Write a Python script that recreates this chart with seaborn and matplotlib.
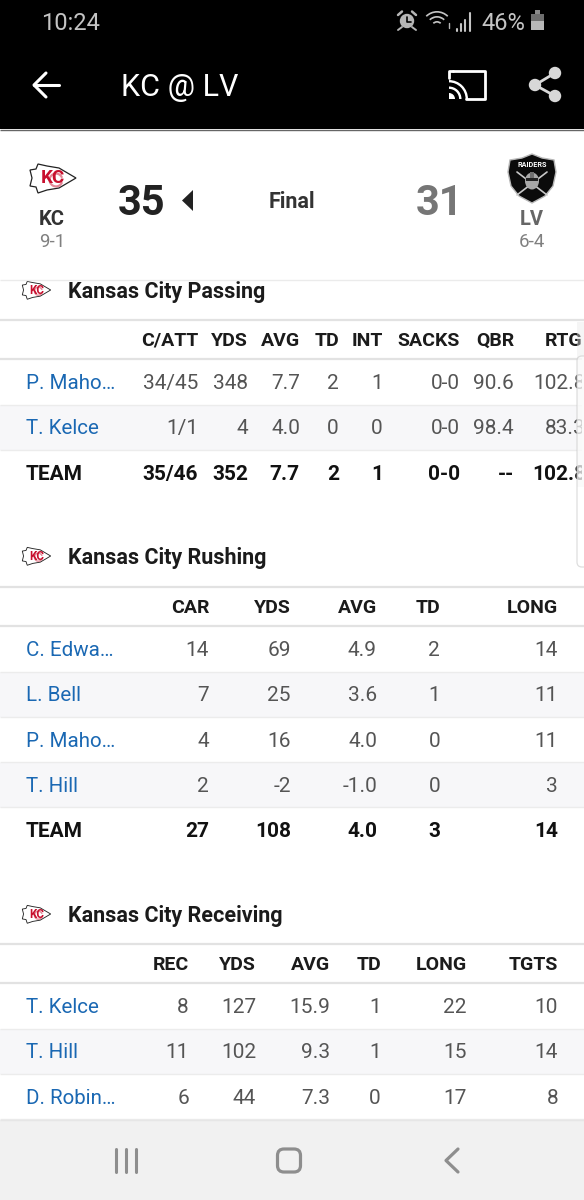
import matplotlib.pyplot as plt
from matplotlib.patches import Circle, Ellipse, FancyBboxPatch, Polygon, Rectangle, Wedge
import seaborn as sns

# Box score values
away_abbr, home_abbr = 'KC', 'LV'
away_score, home_score = '35', '31'
away_record, home_record = '9-1', '6-4'
game_status = 'Final'

pass_title = 'Kansas City Passing'
pass_cols = ['C/ATT', 'YDS', 'AVG', 'TD', 'INT', 'SACKS', 'QBR', 'RTG']
pass_names = ['P. Maho…', 'T. Kelce']
pass_rows = [['34/45', '348', '7.7', '2', '1', '0-0', '90.6', '102.8'],
             ['1/1', '4', '4.0', '0', '0', '0-0', '98.4', '83.3']]
pass_team = ['35/46', '352', '7.7', '2', '1', '0-0', '--', '102.8']

rush_title = 'Kansas City Rushing'
rush_cols = ['CAR', 'YDS', 'AVG', 'TD', 'LONG']
rush_names = ['C. Edwa…', 'L. Bell', 'P. Maho…', 'T. Hill']
rush_rows = [['14', '69', '4.9', '2', '14'],
             ['7', '25', '3.6', '1', '11'],
             ['4', '16', '4.0', '0', '11'],
             ['2', '-2', '-1.0', '0', '3']]
rush_team = ['27', '108', '4.0', '3', '14']

rec_title = 'Kansas City Receiving'
rec_cols = ['REC', 'YDS', 'AVG', 'TD', 'LONG', 'TGTS']
rec_names = ['T. Kelce', 'T. Hill', 'D. Robin…']
rec_rows = [['8', '127', '15.9', '1', '22', '10'],
            ['11', '102', '9.3', '1', '15', '14'],
            ['6', '44', '7.3', '0', '17', '8']]

# Right edges of the table columns, screen pixels
pass_edges = [198, 248, 300, 339, 383, 460, 514, 586]
rush_edges = [209, 291, 377, 440, 558]
rec_edges = [189, 256, 330, 381, 467, 558]

BLUE = '#1a68b3'
GREY_TEXT = '#555555'
DARK = '#1b1b1b'
RULE = '#e2e2e2'
BAND = '#f7f7f9'

sns.set_theme(style='white')
plt.rcParams['font.family'] = ['Roboto', 'DejaVu Sans']

fig = plt.figure(figsize=(5.84, 12), dpi=100, facecolor='white')
ax = fig.add_axes([0, 0, 1, 1])
ax.set_xlim(0, 584)
ax.set_ylim(1200, 0)
ax.axis('off')
sns.despine(ax=ax, left=True, bottom=True)


def label(x, y, s, size=14, color=GREY_TEXT, weight='normal', ha='center', **kw):
    return ax.text(x, y - 0.4, s, fontsize=size, color=color, fontweight=weight,
                   ha=ha, va='center_baseline', **kw)


def rule(y, lw=1.0, color=RULE, zorder=2):
    ax.plot([0, 584], [y, y], color=color, lw=lw, solid_capstyle='butt', zorder=zorder)


def draw_arrowhead(cx, cy, w):
    # Chiefs style arrowhead, drawn around its centre
    s = w / 47.0
    pts = [(-23, -8), (-17, -9), (-15, -14), (-6, -12), (6, -10), (23, 0), (6, 10), (-6, 12),
           (-15, 15), (-17, 9), (-23, 8), (-21, 0)]
    ax.add_patch(Polygon([(cx + px * s, cy + py * s) for px, py in pts], closed=True,
                         facecolor='white', edgecolor='#222222', lw=0.9 * max(s, 0.7), zorder=4))
    ax.add_patch(Wedge((cx + 3 * s, cy + 2 * s), 7.5 * s, 20, 340, width=2.2 * s, facecolor='#c8102e',
                       edgecolor='none', zorder=5, alpha=0.5))
    ax.text(cx, cy, 'KC', fontsize=13.5 * s, color='#c8102e', fontweight='bold',
            ha='center', va='center', zorder=6)


def draw_section(title, y_title, y_top, cols, edges, names, rows, team=None, header_edges=None):
    label(68, y_title, title, size=15.5, color=DARK, weight='bold', ha='left', zorder=3)
    rule(y_top, lw=1.6)
    rule(y_top + 39, lw=1.6)
    header_edges = header_edges or edges
    for c, e in zip(cols, header_edges):
        label(e, y_top + 19, c, size=14, color=DARK, weight='bold', ha='right')
    y = y_top + 62
    for i, (name, vals) in enumerate(zip(names, rows)):
        if i % 2 == 1:
            ax.add_patch(Rectangle((0, y - 22), 584, 45, facecolor=BAND, edgecolor='none', zorder=0))
        label(26, y, name, size=14.8, color=BLUE, ha='left')
        for v, e in zip(vals, edges):
            label(e, y, v, size=15, ha='right')
        rule(y + 22.5, lw=1.0, color='#ececec')
        y += 45.3
    if team is not None:
        label(26, y, 'TEAM', size=15, color='#111111', weight='bold', ha='left')
        for v, e in zip(team, edges):
            label(e, y, v, size=15, color='#111111', weight='bold', ha='right')


# Black status and title bars
ax.add_patch(Rectangle((0, 0), 584, 129, facecolor='black', edgecolor='none', zorder=0))
rule(129.5, lw=1.0, color='#666666')
label(41, 21, '10:24', size=17, color='#c4c4c4', ha='left', zorder=3)
label(481, 21, '46%', size=17, color='#c4c4c4', ha='left', zorder=3)

# Alarm icon
ax.add_patch(Circle((407, 21), 7.2, facecolor='#b5b5b5', edgecolor='none', zorder=3))
ax.plot([407, 407, 411], [16.5, 21.5, 21.5], color='black', lw=1.2, zorder=4)
for x0, x1 in [(398, 402), (416, 412)]:
    ax.plot([x0, x1], [15, 11.5], color='#b5b5b5', lw=1.8, zorder=3)
    ax.plot([x1, x0], [27, 30], color='#b5b5b5', lw=1.4, zorder=3)

# Wifi arcs and signal bars
for r in [6, 11, 16]:
    ax.add_patch(Wedge((437, 27), r, 225, 315, width=1.7, facecolor='#c4c4c4', edgecolor='none', zorder=3))
ax.plot([449, 449], [28, 23], color='#b5b5b5', lw=1, zorder=3)
for x, top in zip([457, 461, 465, 470], [29, 24, 20, 13]):
    ax.plot([x, x], [31, top], color='#c4c4c4', lw=1.5, zorder=3)

# Battery
ax.add_patch(Rectangle((531, 14), 13, 16, facecolor='#b8b8b8', edgecolor='none', zorder=3))
ax.add_patch(Rectangle((535, 10), 5, 4, facecolor='#8a8a8a', edgecolor='none', zorder=3))
ax.add_patch(Rectangle((531, 14), 13, 7, facecolor='#6e6e6e', edgecolor='none', zorder=4))

# Title bar
ax.plot([59, 34], [85, 85], color='white', lw=2.2, zorder=3)
ax.plot([46, 34, 46], [73, 85, 97], color='white', lw=2.2, zorder=3)
label(121, 85, 'KC @ LV', size=22, color='white', ha='left', zorder=3)

# Cast icon
ax.plot([449, 449, 453], [78, 71, 71], color='white', lw=2, zorder=3)
ax.plot([453, 485, 485, 466], [71, 71, 99, 99], color='white', lw=2, zorder=3)
ax.add_patch(Wedge((449, 99), 19, 270, 360, width=2.4, facecolor='white', edgecolor='none', zorder=3))
ax.add_patch(Wedge((449, 99), 12.5, 270, 360, width=2.4, facecolor='white', edgecolor='none', zorder=3))
ax.add_patch(Wedge((449, 99), 6, 270, 360, facecolor='white', edgecolor='none', zorder=3))

# Share icon, three nodes joined by lines
share_x = [555, 535, 555]
share_y = [73, 85, 96]
ax.plot(share_x, share_y, color='#d8d8d8', lw=2, zorder=3)
sns.scatterplot(x=share_x, y=share_y, s=80, color='#d8d8d8', edgecolor='none', zorder=4, ax=ax, legend=False)

# Score header
draw_arrowhead(53, 178, 47)
label(52, 218, away_abbr, size=14.5, color='#333333', weight='bold')
label(52, 240, away_record, size=13.5, color='#808080')
label(141.5, 199, away_score, size=30, color='#222222', weight='bold')
ax.add_patch(Polygon([(193, 190), (193, 211), (182, 200.5)], closed=True, facecolor='#222222', edgecolor='none'))
label(292, 200, game_status, size=15.5, color='#333333', weight='bold')
label(440, 199, home_score, size=30, color='#767676', weight='bold')
label(531.5, 218, home_abbr, size=14.5, color='#666666', weight='bold')
label(531.5, 240, home_record, size=13.5, color='#808080')

# Raiders shield
shield = [(532, 154), (542, 158), (554, 160), (556, 172), (553, 186), (545, 196), (532, 203),
          (519, 196), (511, 186), (508, 172), (510, 160), (522, 158)]
ax.add_patch(Polygon(shield, closed=True, facecolor='#0b0b0b', edgecolor='#b8b8b8', lw=1.0, zorder=3))
ax.text(532, 165, 'RAIDERS', fontsize=5.2, color='white', fontweight='bold', ha='center', va='center', zorder=4)
ax.plot([517, 547], [195, 172], color='#c8c8c8', lw=1.2, zorder=4)
ax.plot([547, 517], [195, 172], color='#c8c8c8', lw=1.2, zorder=4)
ax.add_patch(Ellipse((532, 181), 14, 17, facecolor='#a8a8a8', edgecolor='none', zorder=4))
ax.add_patch(Rectangle((526, 178), 12, 3, facecolor='#222222', edgecolor='none', zorder=5))
ax.add_patch(Rectangle((530, 172), 4, 6, facecolor='#707070', edgecolor='none', zorder=5))

# Tables
draw_section(pass_title, 290, 320, pass_cols, pass_edges, pass_names, pass_rows, pass_team,
             header_edges=pass_edges[:-1] + [583])
draw_section(rush_title, 556, 587, rush_cols, rush_edges, rush_names, rush_rows, rush_team)
draw_section(rec_title, 914, 944, rec_cols, rec_edges, rec_names, rec_rows)
for y in [290, 556, 914]:
    draw_arrowhead(36.5, y, 29)

# The passing logo runs under the score header
ax.add_patch(Rectangle((0, 262), 584, 17.5, facecolor='white', edgecolor='none', zorder=7))
rule(279.5, lw=1.0, color='#ebebeb', zorder=8)

# Scrollbar overlay at the right edge
ax.add_patch(Rectangle((582, 330), 2, 160, facecolor='white', edgecolor='none', zorder=7))
ax.add_patch(Rectangle((577, 322), 7, 165, facecolor='#e8e8e8', edgecolor='none', alpha=0.4, zorder=8))
ax.add_patch(FancyBboxPatch((577, 356), 14, 211, boxstyle='round,pad=0,rounding_size=5',
                            facecolor='white', edgecolor='#c9c9c9', lw=0.9, alpha=0.6, zorder=9))

# Android navigation bar
ax.add_patch(Rectangle((0, 1120), 584, 80, facecolor='#f1f1f1', edgecolor='none', zorder=7))
rule(1119.5, lw=1.0, color='#e6e6e6', zorder=8)
for x in [115.5, 125.5, 135.5]:
    ax.plot([x, x], [1149, 1172], color='#8e8e8e', lw=2.2, zorder=8)
ax.add_patch(FancyBboxPatch((277.5, 1149), 23, 23, boxstyle='round,pad=0,rounding_size=6.5',
                            facecolor='none', edgecolor='#8e8e8e', lw=2.3, zorder=8))
ax.plot([458, 446, 458], [1149, 1160.5, 1172], color='#8e8e8e', lw=2.3, zorder=8)

fig.savefig('out.png', dpi=100)
